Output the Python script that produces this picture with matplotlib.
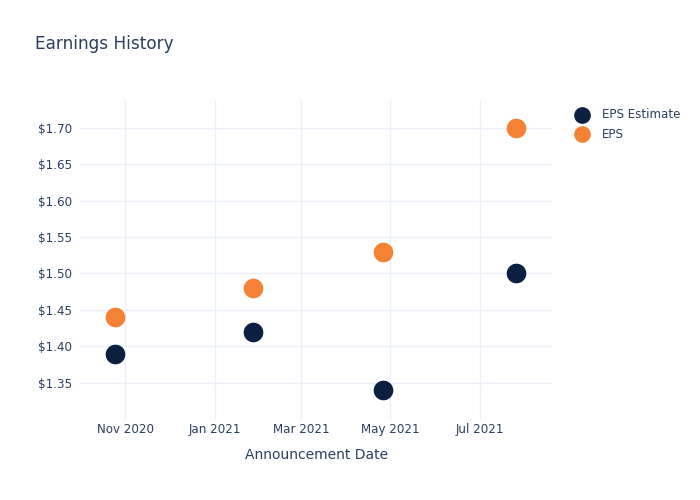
import matplotlib
matplotlib.use("Agg")
import matplotlib.pyplot as plt
import matplotlib.dates as mdates
from matplotlib.ticker import FuncFormatter
from datetime import datetime

dates = [datetime(2020, 10, 25), datetime(2021, 1, 27), datetime(2021, 4, 26), datetime(2021, 7, 26)]
eps_estimate = [1.39, 1.42, 1.34, 1.50]
eps_actual = [1.44, 1.48, 1.53, 1.70]
yticks = [1.35, 1.40, 1.45, 1.50, 1.55, 1.60, 1.65, 1.70]

text_color = '#2a3f5f'
grid_color = '#ebf0f8'
plt.rcParams['font.family'] = ['DejaVu Sans']

fig = plt.figure(figsize=(7, 5), dpi=100)
ax = fig.add_axes([80/700, 80/500, 473/700, 320/500])

ax.scatter(dates, eps_estimate, s=200, color='#0b1f41', label='EPS Estimate', zorder=3, linewidths=0)
ax.scatter(dates, eps_actual, s=200, color='#f58134', label='EPS', zorder=3, linewidths=0)

ax.set_xlim(datetime(2020, 10, 1), datetime(2021, 8, 20))
ax.set_ylim(1.299, 1.738)
ax.set_yticks(yticks)
ax.yaxis.set_major_formatter(FuncFormatter(lambda v, p: '${:.2f}'.format(v)))
ax.xaxis.set_major_locator(mdates.MonthLocator(bymonth=[1, 3, 5, 7, 11]))
ax.xaxis.set_major_formatter(mdates.DateFormatter('%b %Y'))

ax.grid(True, color=grid_color, linewidth=1)
ax.set_axisbelow(True)
for s in ax.spines.values():
    s.set_visible(False)
ax.tick_params(length=0, colors=text_color, labelsize=8.6, pad=6)
ax.tick_params(axis='x', pad=2.5)
ax.set_xlabel('Announcement Date', color=text_color, fontsize=10, labelpad=8)

fig.text(35/700, 1 - 44/500, 'Earnings History', color=text_color, fontsize=12.2, va='center', ha='left')

leg = ax.legend(loc='upper left', bbox_to_anchor=(1.025, 0.99), frameon=False, fontsize=8.6,
                labelcolor=text_color, handletextpad=0.7, borderaxespad=0, labelspacing=0.55,
                markerscale=0.85)

fig.savefig('out.png', dpi=100)
